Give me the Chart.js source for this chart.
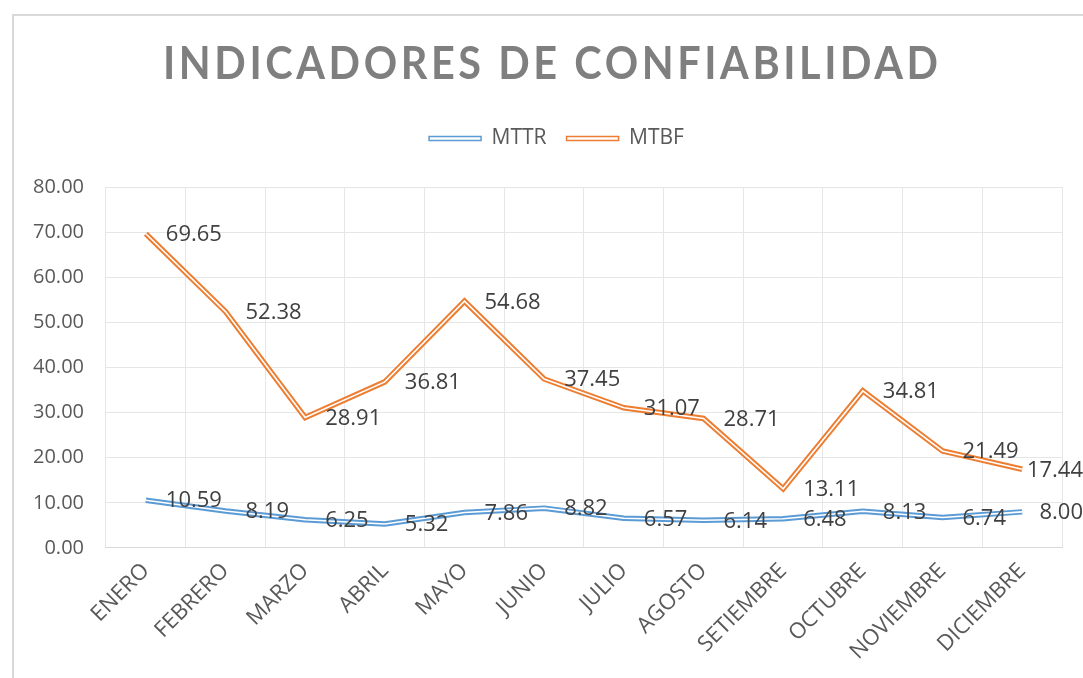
<!DOCTYPE html>
<html>
<head>
<meta charset="utf-8">
<script src="https://cdn.jsdelivr.net/npm/chart.js@4.4.0/dist/chart.umd.min.js"></script>
<style>
  body { margin: 0; background: #fff; overflow: hidden; }
  #frame { position: absolute; left: 12px; top: 14px; width: 1100px; height: 700px; border: 2px solid #d9d9d9; }
  #chart { position: absolute; left: 0; top: 0; }
</style>
</head>
<body>
<div id="frame"></div>
<canvas id="chart" width="1083" height="678"></canvas>
<script>
/* Data */
let months = ["ENERO", "FEBRERO", "MARZO", "ABRIL", "MAYO", "JUNIO", "JULIO",
              "AGOSTO", "SETIEMBRE", "OCTUBRE", "NOVIEMBRE", "DICIEMBRE"];
let mttr = [10.59, 8.19, 6.25, 5.32, 7.86, 8.82, 6.57, 6.14, 6.48, 8.13, 6.74, 8.00];
let mtbf = [69.65, 52.38, 28.91, 36.81, 54.68, 37.45, 31.07, 28.71, 13.11, 34.81, 21.49, 17.44];
let yMin = 0;
let yMax = 80;
let yStep = 10;

let titleText = "INDICADORES DE CONFIABILIDAD";
let blue = "#5b9bd5";
let orange = "#ed7d31";

/* Title, narrowed and letter spaced */
const titlePlugin = {
    id: "bigTitle",
    afterDraw(chart) {
        const ctx = chart.ctx;
        const sx = 0.9;
        ctx.save();
        ctx.font = "bold 46px Lato";
        ctx.fillStyle = "#7f7f7f";
        ctx.textAlign = "left";
        ctx.textBaseline = "middle";
        ctx.letterSpacing = "0px";
        const w = ctx.measureText(titleText).width;
        const gap = (775 / sx - w) / (titleText.length - 1);
        ctx.letterSpacing = gap + "px";
        ctx.scale(sx, 1);
        ctx.fillText(titleText, 163 / sx, 64);
        ctx.restore();
    }
};

/* Value labels right of each point, kept inside the canvas */
const labelPlugin = {
    id: "valueLabels",
    afterDatasetsDraw(chart) {
        const ctx = chart.ctx;
        ctx.save();
        ctx.font = "22px 'Open Sans'";
        ctx.fillStyle = "#404040";
        ctx.textAlign = "left";
        ctx.textBaseline = "middle";
        chart.data.datasets.forEach((ds, i) => {
            if (!ds.showLabels) return;
            chart.getDatasetMeta(i).data.forEach((pt, j) => {
                const txt = ds.data[j].toFixed(2);
                const x = Math.min(pt.x + 20, chart.width - ctx.measureText(txt).width);
                ctx.fillText(txt, x, pt.y + 1);
            });
        });
        ctx.restore();
    }
};

/* Extra space below the legend, and legend nudged right */
const legendGap = {
    id: "legendGap",
    beforeInit(chart) {
        const fit = chart.legend.fit;
        chart.legend.fit = function () {
            fit.bind(chart.legend)();
            this.height += 28;
        };
    },
    afterLayout(chart) {
        chart.legend.left += 20;
        chart.legend.right += 20;
    }
};

new Chart("chart", {
    type: "line",
    data: {
        labels: months,
        datasets: [
            { label: "MTTR", data: mttr, borderColor: blue, backgroundColor: "#fff", borderWidth: 5.5, order: 1, showLabels: true },
            { label: "MTBF", data: mtbf, borderColor: orange, backgroundColor: "#fff", borderWidth: 5.5, order: 1, showLabels: true },
            { label: "inner1", data: mttr, borderColor: "#fff", borderWidth: 1.6, order: 0 },
            { label: "inner2", data: mtbf, borderColor: "#fff", borderWidth: 1.6, order: 0 }
        ]
    },
    options: {
        responsive: false,
        animation: false,
        elements: { point: { radius: 0, hoverRadius: 0 }, line: { tension: 0 } },
        layout: { padding: { top: 108, right: 21, left: 11, bottom: 3 } },
        plugins: {
            tooltip: { enabled: false },
            legend: {
                position: "top",
                labels: {
                    boxWidth: 52,
                    boxHeight: 4,
                    padding: 20,
                    color: "#595959",
                    font: { family: "'Open Sans'", size: 21 },
                    filter: (item) => item.text.indexOf("inner") !== 0,
                    generateLabels(chart) {
                        const items = Chart.defaults.plugins.legend.labels.generateLabels(chart);
                        items.forEach((it) => { it.lineWidth = 1.5; it.fillStyle = "#fff"; });
                        return items;
                    }
                }
            }
        },
        scales: {
            x: {
                offset: true,
                grid: { offset: true, color: "#e6e6e6", drawTicks: false },
                border: { color: "#d9d9d9" },
                ticks: {
                    minRotation: 45,
                    maxRotation: 45,
                    padding: 10,
                    color: "#595959",
                    font: { family: "'Open Sans'", size: 22 }
                }
            },
            y: {
                min: yMin,
                max: yMax,
                grid: { color: "#e6e6e6", drawTicks: false },
                border: { display: false },
                ticks: {
                    stepSize: yStep,
                    padding: 22,
                    color: "#595959",
                    font: { family: "'Open Sans'", size: 20 },
                    callback: (v) => v.toFixed(2)
                }
            }
        }
    },
    plugins: [titlePlugin, labelPlugin, legendGap]
});
</script>
</body>
</html>
